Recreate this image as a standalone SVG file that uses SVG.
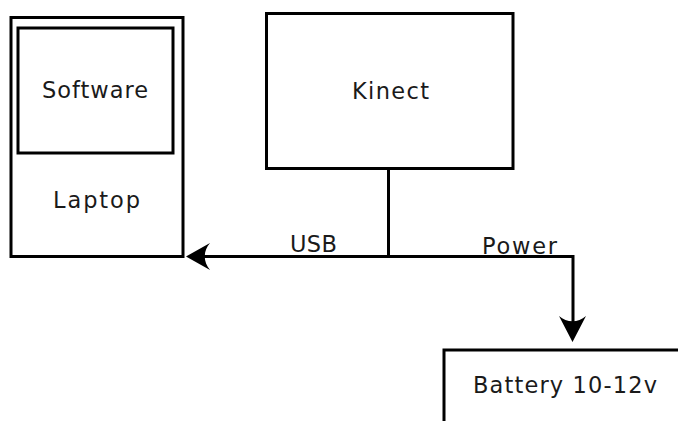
<svg xmlns="http://www.w3.org/2000/svg" width="678" height="421" viewBox="0 0 678 421">
<style>
.box{fill:#fff;stroke:#000;stroke-width:3}
.ln{fill:none;stroke:#000;stroke-width:3}
.t{font-family:"DejaVu Sans",sans-serif;font-size:22.5px;fill:#1a1a1a}
</style>
<rect width="678" height="421" fill="#fff"/>
<g id="laptop">
<rect class="box" x="11" y="17.5" width="172" height="239"/>
<text class="t" x="53" y="208" textLength="87" lengthAdjust="spacing">Laptop</text>
</g>
<g id="software">
<rect class="box" x="18" y="28" width="155" height="125"/>
<text class="t" x="42" y="98" textLength="106" lengthAdjust="spacing">Software</text>
</g>
<g id="kinect">
<rect class="box" x="266.5" y="13.5" width="246.5" height="155"/>
<text class="t" x="352" y="99" textLength="77" lengthAdjust="spacing">Kinect</text>
</g>
<g id="battery">
<rect class="box" x="444" y="350" width="260" height="100"/>
<text class="t" x="473" y="393" textLength="184" lengthAdjust="spacing">Battery 10-12v</text>
</g>
<g id="connectors">
<path class="ln" d="M388.5,168.5 V256.5"/>
<path class="ln" d="M200,256.5 H573 V330"/>
<path d="M186,256.5 L210,243 C203,251 203,262 210,270 Z" fill="#000"/>
<path d="M572.5,342 L559,316 C567,323 578,323 586,316 Z" fill="#000"/>
<text class="t" x="290" y="252" textLength="47" lengthAdjust="spacing">USB</text>
<text class="t" x="482" y="254" textLength="75" lengthAdjust="spacing">Power</text>
</g>
</svg>
